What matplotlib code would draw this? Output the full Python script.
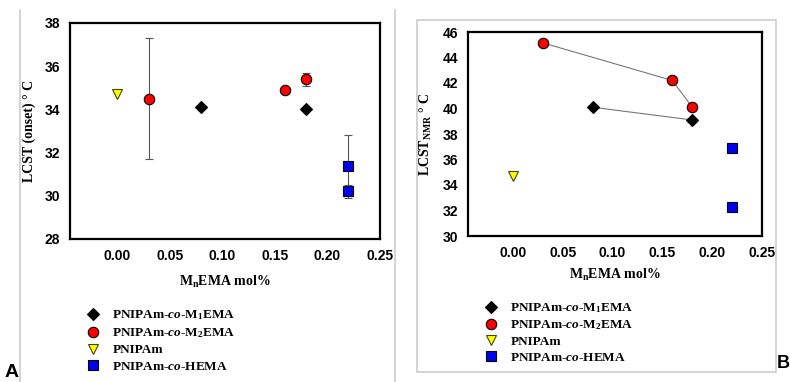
import matplotlib
matplotlib.use("Agg")
import matplotlib.pyplot as plt
from matplotlib.lines import Line2D
from matplotlib.patches import Rectangle

plt.rcParams['mathtext.fontset'] = 'custom'
plt.rcParams['mathtext.rm'] = 'Liberation Serif:bold'
plt.rcParams['mathtext.bf'] = 'Liberation Serif:bold'
plt.rcParams['mathtext.it'] = 'Liberation Serif:italic:bold'

# ---- Data: panel A (LCST onset) ----
a_m1_x = [0.08, 0.18]
a_m1_y = [34.1, 34.0]
a_m2_x = [0.03, 0.16, 0.18]
a_m2_y = [34.5, 34.9, 35.4]
a_m2_err = [2.8, 0.0, 0.3]
a_pn_x = [0.0]
a_pn_y = [34.7]
a_he_x = [0.22, 0.22]
a_he_y = [31.4, 30.2]
a_he_err = [1.4, 0.3]

# ---- Data: panel B (LCST NMR) ----
b_m1_x = [0.08, 0.18]
b_m1_y = [40.1, 39.1]
b_m2_x = [0.03, 0.16, 0.18]
b_m2_y = [45.15, 42.2, 40.1]
b_pn_x = [0.0]
b_pn_y = [34.7]
b_he_x = [0.22, 0.22]
b_he_y = [36.9, 32.3]

x_ticks = [0.00, 0.05, 0.10, 0.15, 0.20, 0.25]
a_yticks = [28, 30, 32, 34, 36, 38]
b_yticks = [30, 32, 34, 36, 38, 40, 42, 44, 46]

labels = ['PNIPAm-$\\it{co}$-M$_1$EMA', 'PNIPAm-$\\it{co}$-M$_2$EMA',
          'PNIPAm', 'PNIPAm-$\\it{co}$-HEMA']

W, H = 790, 382
fig = plt.figure(figsize=(W / 100, H / 100), dpi=100)

def fx(px):
    return px / W

def fy(py):
    return 1 - py / H

# frame lines
gray = '#cccccc'
fig.add_artist(Line2D([fx(20), fx(20)], [0, fy(10)], color=gray, lw=1.2))
fig.add_artist(Line2D([fx(395), fx(395)], [0, fy(10)], color=gray, lw=1.2))
fig.add_artist(Rectangle((fx(417), fy(372)), fx(776) - fx(417), fy(20) - fy(372),
                         fill=False, edgecolor=gray, lw=1.2))

serif = 'Liberation Serif'
sans = 'Liberation Sans'

styles = dict(
    m1=dict(marker='D', color='black', mec='black', ms=6.5),
    m2=dict(marker='o', color='red', mec='black', ms=7.5),
    pn=dict(marker='v', color='yellow', mec='#444400', ms=7.5),
    he=dict(marker='s', color='#0000ee', mec='black', ms=6.5),
)

def style_axes(ax, yticks, ylim):
    ax.set_xlim(-0.045, 0.25)
    ax.set_ylim(*ylim)
    ax.set_xticks(x_ticks)
    ax.set_xticklabels([f'{v:.2f}' for v in x_ticks], fontfamily=sans,
                       fontweight='bold', fontsize=10)
    ax.set_yticks(yticks)
    ax.set_yticklabels([str(v) for v in yticks], fontfamily=sans,
                       fontweight='bold', fontsize=10)
    for s in ax.spines.values():
        s.set_linewidth(1.6)
    ax.tick_params(direction='out', length=0, width=1, pad=7)

# ---- Panel A ----
axA = fig.add_axes([fx(70), fy(239), fx(380) - fx(70), fy(23) - fy(239)])
hA = []
hA.append(axA.plot(a_m1_x, a_m1_y, ls='none', mew=0.8, **styles['m1'])[0])
axA.errorbar(a_m2_x, a_m2_y, yerr=a_m2_err, fmt='none', ecolor='#555555',
             elinewidth=0.8, capsize=3, capthick=0.8, zorder=1)
hA.append(axA.plot(a_m2_x, a_m2_y, ls='none', mew=0.8, **styles['m2'])[0])
hA.append(axA.plot(a_pn_x, a_pn_y, ls='none', mew=0.8, **styles['pn'])[0])
axA.errorbar(a_he_x, a_he_y, yerr=a_he_err, fmt='none', ecolor='#555555',
             elinewidth=0.8, capsize=3, capthick=0.8, zorder=1)
hA.append(axA.plot(a_he_x, a_he_y, ls='none', mew=0.8, **styles['he'])[0])
style_axes(axA, a_yticks, (28, 38))
axA.set_ylabel('LCST (onset) ° C', fontfamily=serif, fontweight='bold',
               fontsize=10, labelpad=6)
axA.set_xlabel('M$_\\mathrm{n}$EMA mol%', fontfamily=serif, fontweight='bold',
               fontsize=10, labelpad=8)
legA = fig.legend(hA, labels, loc='upper left',
                  bbox_to_anchor=(fx(78), fy(302)), frameon=False,
                  prop=dict(family=serif, weight='bold', size=9.5),
                  handletextpad=0.9, labelspacing=0.3, handlelength=1.2,
                  borderpad=0)

# ---- Panel B ----
axB = fig.add_axes([fx(468), fy(236), fx(762) - fx(468), fy(32) - fy(236)])
axB.plot(b_m2_x, b_m2_y, color='#777777', lw=0.8, zorder=1)
axB.plot(b_m1_x, b_m1_y, color='#777777', lw=0.8, zorder=1)
hB = []
hB.append(axB.plot(b_m1_x, b_m1_y, ls='none', mew=0.8, **styles['m1'])[0])
hB.append(axB.plot(b_m2_x, b_m2_y, ls='none', mew=0.8, **styles['m2'])[0])
hB.append(axB.plot(b_pn_x, b_pn_y, ls='none', mew=0.8, **styles['pn'])[0])
hB.append(axB.plot(b_he_x, b_he_y, ls='none', mew=0.8, **styles['he'])[0])
style_axes(axB, b_yticks, (30, 46))
axB.set_ylabel('LCST$_\\mathrm{NMR}$ ° C', fontfamily=serif, fontweight='bold',
               fontsize=10, labelpad=6)
axB.set_xlabel('M$_\\mathrm{n}$EMA mol%', fontfamily=serif, fontweight='bold',
               fontsize=10, labelpad=5)
legB = fig.legend(hB, labels, loc='upper left',
                  bbox_to_anchor=(fx(476), fy(295)), frameon=False,
                  prop=dict(family=serif, weight='bold', size=9.5),
                  handletextpad=0.9, labelspacing=0.25, handlelength=1.2,
                  borderpad=0)

fig.text(fx(5), fy(381), 'A', fontfamily=sans, fontweight='bold', fontsize=14,
         ha='left', va='bottom')
fig.text(fx(777), fy(372), 'B', fontfamily=sans, fontweight='bold', fontsize=13,
         ha='left', va='bottom')

fig.savefig('out.png', dpi=100)
